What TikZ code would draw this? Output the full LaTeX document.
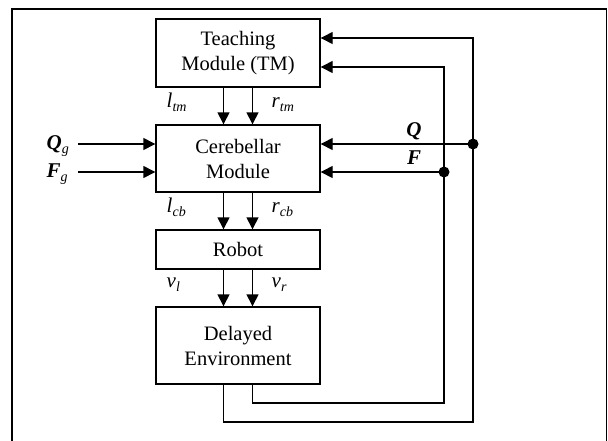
\documentclass[tikz,border=0pt]{standalone}
\usepackage{fontspec}
\setmainfont{Liberation Serif}
\usetikzlibrary{arrows.meta}
\newcommand{\sig}[2]{#1\raisebox{-4pt}{\fontsize{14}{14}\selectfont\textit{#2}}}
\begin{document}
\begin{tikzpicture}[x=1pt,y=-1pt,line width=1.4pt,
        block/.style={draw, rectangle, minimum width=164pt, align=center,
            font=\fontsize{20.5}{25}\selectfont, inner sep=0pt},
        arr/.style={-{Triangle[length=12pt,width=12pt]}},
        lab/.style={anchor=base west, inner sep=0pt, font=\fontsize{21}{21}\selectfont}
    ]
    \useasboundingbox (0,0) rectangle (608,440);
    % frame
    \draw[line width=1.2pt] (12,442) -- (12,9) -- (606.5,9) -- (606.5,442);
    % blocks
    \node[block, minimum height=68pt] (tm) at (238,53) {Teaching\\Module (TM)};
    \node[block, minimum height=67pt] (cb) at (238,158.5) {Cerebellar\\Module};
    \node[block, minimum height=39pt] (robot) at (238,249.5) {Robot};
    \node[block, minimum height=77pt] (env) at (238,345.5) {Delayed\\Environment};
    % forward arrows
    \draw[arr] ([xshift=-14.5pt]tm.south) -- ([xshift=-14.5pt]cb.north);
    \draw[arr] ([xshift=14.5pt]tm.south) -- ([xshift=14.5pt]cb.north);
    \draw[arr] ([xshift=-14.5pt]cb.south) -- ([xshift=-14.5pt]robot.north);
    \draw[arr] ([xshift=14.5pt]cb.south) -- ([xshift=14.5pt]robot.north);
    \draw[arr] ([xshift=-14.5pt]robot.south) -- ([xshift=-14.5pt]env.north);
    \draw[arr] ([xshift=14.5pt]robot.south) -- ([xshift=14.5pt]env.north);
    % goal inputs
    \coordinate (qin) at (78,144);
    \coordinate (fin) at (78,172);
    \draw[arr] (qin) -- (qin -| cb.west);
    \draw[arr] (fin) -- (fin -| cb.west);
    % feedback loops
    \coordinate (qout) at (473,422);
    \coordinate (fout) at (444,403);
    \coordinate (qdot) at (473,144);
    \coordinate (fdot) at (444,172);
    \draw[arr] ([xshift=-14.5pt]env.south) |- (qout) -- (qout |- 0,38) -- (tm.east |- 0,38);
    \draw[arr] ([xshift=14.5pt]env.south) |- (fout) -- (fout |- 0,67) -- (tm.east |- 0,67);
    \draw[arr] (qdot) -- (qdot -| cb.east);
    \draw[arr] (fdot) -- (fdot -| cb.east);
    \fill (qdot) circle (5.5pt);
    \fill (fdot) circle (5.5pt);
    % labels
    \node[lab] (ltm) at (166,107) {\sig{\textit{l}}{tm}};
    \node[lab] (rtm) at (271,107) {\sig{\textit{r}}{tm}};
    \node[lab] (lcb) at (166,212) {\sig{\textit{l}}{cb}};
    \node[lab] (rcb) at (271,212) {\sig{\textit{r}}{cb}};
    \node[lab] (vl) at (166,287) {\sig{\textit{v}}{l}};
    \node[lab] (vr) at (271,287) {\sig{\textit{v}}{r}};
    \node[lab] (qg) at (46,149) {\sig{\textbf{\textit{Q}}}{g}};
    \node[lab] (fg) at (46,177) {\sig{\textbf{\textit{F}}}{g}};
    \node[lab, anchor=base] (q) at (414,136) {\textbf{\textit{Q}}};
    \node[lab, anchor=base] (f) at (414,164) {\textbf{\textit{F}}};
\end{tikzpicture}
\end{document}
